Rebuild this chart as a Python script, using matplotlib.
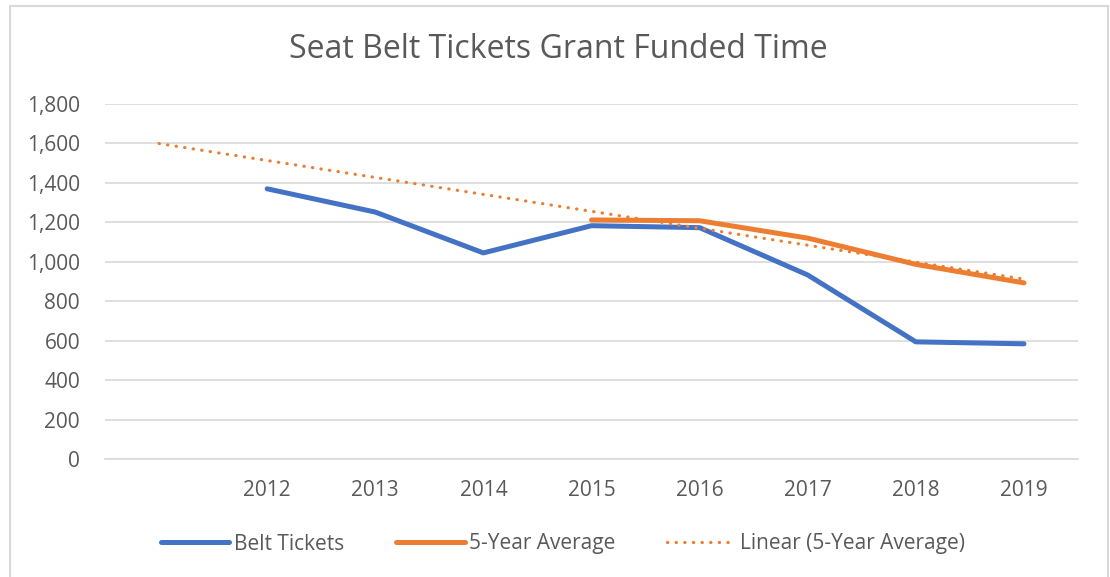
import numpy as np
import matplotlib.pyplot as plt
from matplotlib.patches import Rectangle

# Data (first category is an empty slot)
categories = ['', '2012', '2013', '2014', '2015', '2016', '2017', '2018', '2019']
belt_tickets = [np.nan, 1370, 1252, 1045, 1183, 1173, 933, 594, 584]
five_year_avg = [np.nan, np.nan, np.nan, np.nan, 1212, 1208, 1120, 987, 893]

plt.rcParams['font.family'] = ['Open Sans', 'DejaVu Sans']
text_color = '#595959'
grid_color = '#D9D9D9'
blue = '#4472C4'
orange = '#ED7D31'

x = np.arange(len(categories))

# Linear trendline of the 5-year average, extended across all categories
avg = np.array(five_year_avg, dtype=float)
mask = ~np.isnan(avg)
slope, intercept = np.polyfit(x[mask], avg[mask], 1)
trend = slope * x + intercept

fig = plt.figure(figsize=(11.1, 5.77), dpi=100)
ax = fig.add_axes([105 / 1110, 1 - 459 / 577, (1078 - 105) / 1110, (459 - 104) / 577])

ax.plot(x, belt_tickets, color=blue, lw=3.6, solid_capstyle='round',
        solid_joinstyle='round', label='Belt Tickets', zorder=3)
ax.plot(x, five_year_avg, color=orange, lw=3.6, solid_capstyle='round',
        solid_joinstyle='round', label='5-Year Average', zorder=4)
ax.plot(x, trend, color=orange, lw=2.3, linestyle=(0, (0.1, 2.6)),
        dash_capstyle='round', label='Linear (5-Year Average)', zorder=5)

ax.set_xlim(-0.5, len(categories) - 0.5)
ax.set_ylim(0, 1800)
ax.set_yticks(np.arange(0, 1801, 200))
ax.set_yticklabels([f'{v:,}' for v in range(0, 1801, 200)])
ax.set_xticks(x)
ax.set_xticklabels(categories)
ax.grid(axis='y', color=grid_color, lw=1.2)
ax.set_axisbelow(True)
for side in ['top', 'right', 'left']:
    ax.spines[side].set_visible(False)
ax.spines['bottom'].set_color(grid_color)
ax.spines['bottom'].set_linewidth(1.2)
ax.tick_params(axis='both', length=0, labelsize=15, colors=text_color)
ax.tick_params(axis='y', pad=18)
ax.tick_params(axis='x', pad=15)

fig.text(558 / 1110, 1 - 49 / 577, 'Seat Belt Tickets Grant Funded Time',
         ha='center', va='center', fontsize=23, color=text_color)

leg = fig.legend(loc='center', bbox_to_anchor=(563 / 1110, 1 - 544 / 577), ncol=3,
                 frameon=False, fontsize=15, handlelength=3.3, handletextpad=0.2,
                 columnspacing=2.5, labelcolor=text_color)

# chart border
fig.patches.append(Rectangle((9.5 / 1110, -0.05), (1107.5 - 9.5) / 1110, 1.05 - 6 / 577,
                             transform=fig.transFigure, fill=False,
                             edgecolor=grid_color, lw=1.5))

fig.savefig('out.png', dpi=100)
